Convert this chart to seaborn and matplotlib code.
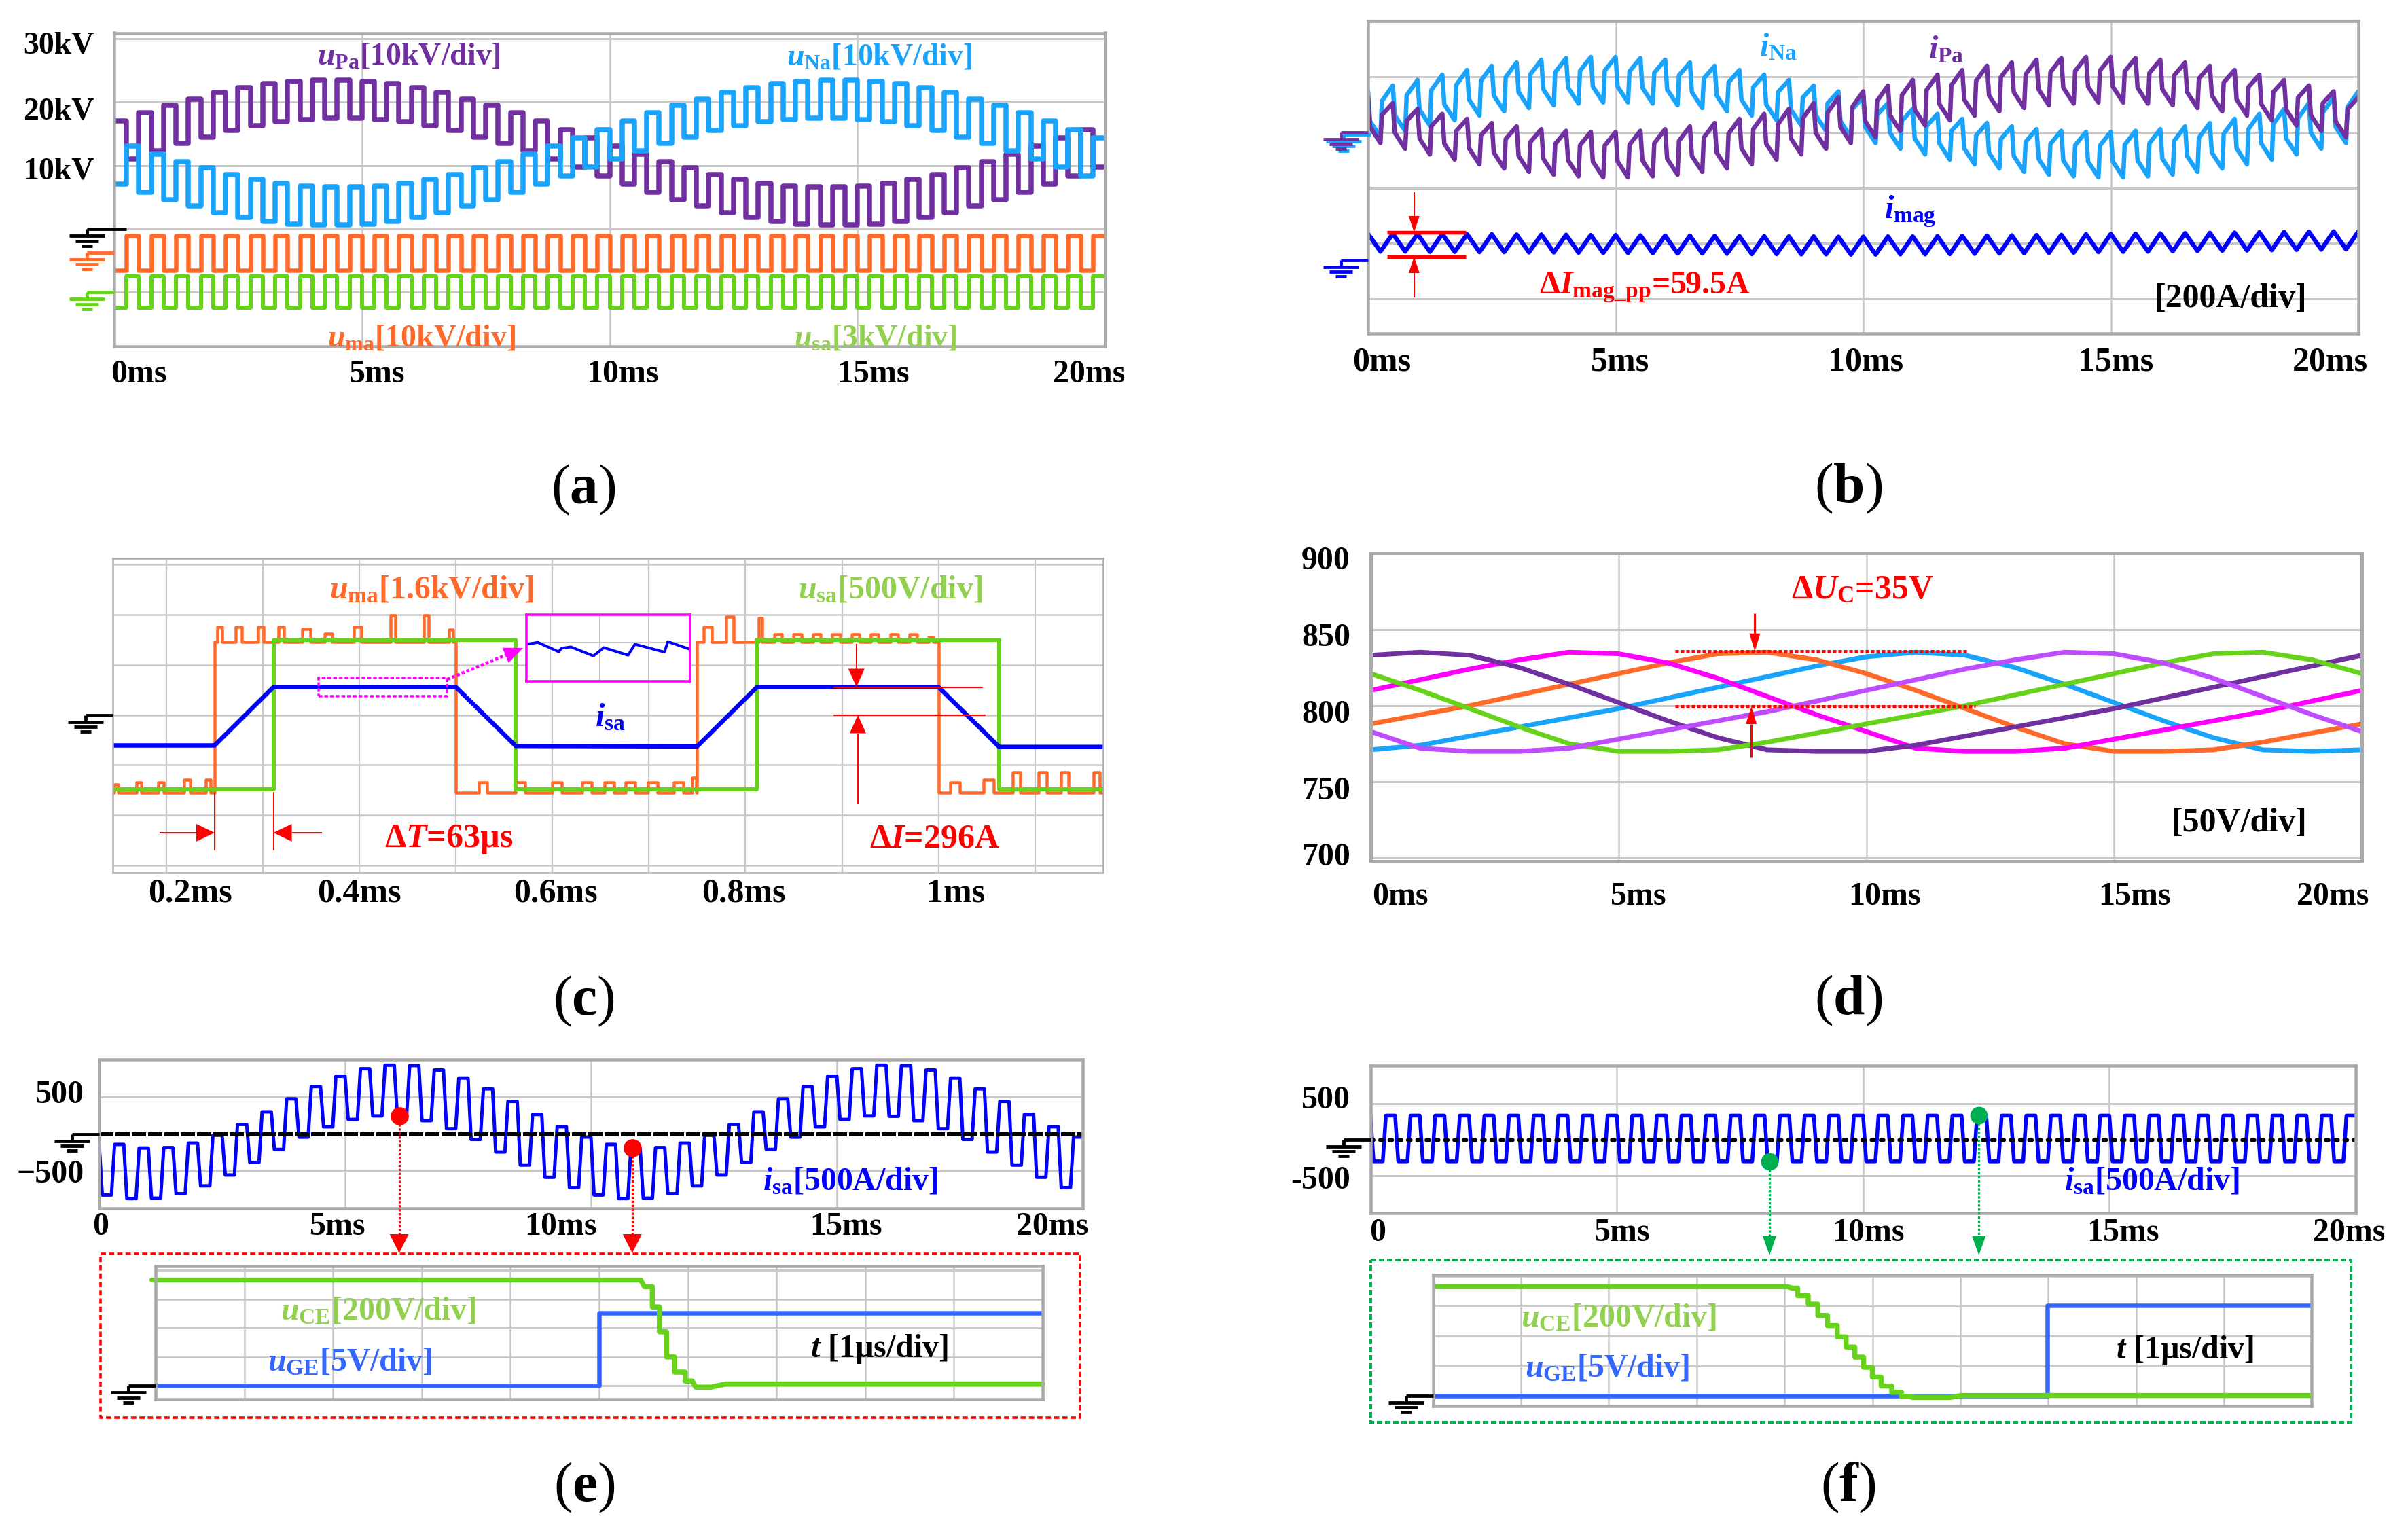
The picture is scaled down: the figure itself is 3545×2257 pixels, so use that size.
import numpy as np
import pandas as pd
import matplotlib
matplotlib.use("Agg")
import matplotlib.pyplot as plt
import matplotlib.transforms as mtransforms
from matplotlib.patches import Rectangle, Polygon
import seaborn as sns

# ============================ DATA ============================
T_SW = 0.5      # ms, switching period of every 20 ms trace
RAMP = 0.063    # ms, current ramp time (dT = 63 us)

# (a) arm voltages, level held in each half of every switching period [kV]
upa_hi = [17.0, 18.3, 19.5, 20.5, 21.5, 22.3, 22.9, 23.3, 23.5, 23.5, 23.3, 22.9, 22.3, 21.5, 20.5, 19.5, 18.3, 17.0, 15.7, 14.4,
          13.1, 11.8, 10.6, 9.6, 8.6, 7.8, 7.2, 6.8, 6.6, 6.6, 6.8, 7.2, 7.8, 8.6, 9.6, 10.6, 11.8, 13.1, 14.4, 15.7]
upa_lo = [11.0, 12.3, 13.5, 14.5, 15.5, 16.3, 16.9, 17.3, 17.5, 17.5, 17.3, 16.9, 16.3, 15.5, 14.5, 13.5, 12.3, 11.0, 9.7, 8.4,
          7.1, 5.8, 4.6, 3.6, 2.6, 1.8, 1.2, 0.8, 0.6, 0.6, 0.8, 1.2, 1.8, 2.6, 3.6, 4.6, 5.8, 7.1, 8.4, 9.7]
una_hi = [13.1, 11.8, 10.6, 9.6, 8.6, 7.8, 7.2, 6.8, 6.6, 6.6, 6.8, 7.2, 7.8, 8.6, 9.6, 10.6, 11.8, 13.1, 14.4, 15.7,
          17.0, 18.3, 19.5, 20.5, 21.5, 22.3, 22.9, 23.3, 23.5, 23.5, 23.3, 22.9, 22.3, 21.5, 20.5, 19.5, 18.3, 17.0, 15.7, 14.4]
una_lo = [7.1, 5.8, 4.6, 3.6, 2.6, 1.8, 1.2, 0.8, 0.6, 0.6, 0.8, 1.2, 1.8, 2.6, 3.6, 4.6, 5.8, 7.1, 8.4, 9.7,
          11.0, 12.3, 13.5, 14.5, 15.5, 16.3, 16.9, 17.3, 17.5, 17.5, 17.3, 16.9, 16.3, 15.5, 14.5, 13.5, 12.3, 11.0, 9.7, 8.4]
uma_a_hi, uma_a_lo = 2.7, -2.8      # kV
usa_a_hi, usa_a_lo = 0.75, -0.72    # kV
a_xticklabels = ["0ms", "5ms", "10ms", "15ms", "20ms"]
a_yticks = [30, 20, 10]
a_yticklabels = ["30kV", "20kV", "10kV"]

# (b) arm / magnetising currents [A]: peak at start of each period, trough in the middle
ina_pk = [148, 169, 189, 208, 225, 240, 252, 262, 268, 272, 272, 268, 262, 252, 240, 225, 208, 189, 169, 148,
          127, 106, 85, 67, 49, 34, 22, 12, 6, 2, 2, 6, 12, 22, 34, 49, 67, 85, 106, 127, 148]
ina_tr = [-17, 5, 25, 44, 61, 76, 88, 98, 104, 108, 108, 104, 98, 88, 76, 61, 44, 25, 5, -17,
          -38, -59, -79, -98, -115, -130, -142, -152, -158, -162, -162, -158, -152, -142, -130, -115, -98, -79, -59, -38]
ipa_pk = [127, 106, 85, 67, 49, 34, 22, 12, 6, 2, 2, 6, 12, 22, 34, 49, 67, 85, 106, 127,
          148, 169, 189, 208, 225, 240, 252, 262, 268, 272, 272, 268, 262, 252, 240, 225, 208, 189, 169, 148, 127]
ipa_tr = [-38, -59, -79, -98, -115, -130, -142, -152, -158, -162, -162, -158, -152, -142, -130, -115, -98, -79, -59, -38,
          -17, 5, 25, 44, 61, 76, 88, 98, 104, 108, 108, 104, 98, 88, 76, 61, 44, 25, 5, -17]
imag_pk = [95, 95, 94, 94, 93, 93, 92, 92, 91, 90, 90, 89, 88, 88, 87, 86, 86, 85, 85, 84,
           84, 85, 85, 86, 87, 88, 89, 90, 91, 93, 94, 95, 96, 97, 98, 99, 100, 101, 102, 103, 103]
imag_tr = [31, 31, 30, 30, 29, 29, 28, 28, 27, 26, 26, 25, 24, 24, 23, 22, 22, 21, 21, 20,
           20, 21, 21, 22, 23, 24, 25, 26, 27, 29, 30, 31, 32, 33, 34, 35, 36, 37, 38, 39]
imag_pp_marks = [100, 12]     # A, red marker bars
b_xticklabels = ["0ms", "5ms", "10ms", "15ms", "20ms"]

# (c) zoom 0.14 ... 1.17 ms
c_span = [0.1445, 1.1706]
uma_c_edges = [0.25, 0.5, 0.75, 1.0]
uma_c_hi, uma_c_lo = 2.32, -2.48            # kV
uma_c_spikes = [  # (start ms, width ms, level kV)
    (0.146, 0.004, -2.22), (0.169, 0.005, -2.16), (0.192, 0.005, -2.16), (0.2185, 0.006, -2.08), (0.241, 0.005, -2.08),
    (0.253, 0.005, 2.80), (0.272, 0.006, 2.80), (0.295, 0.006, 2.80), (0.316, 0.006, 2.80), (0.341, 0.008, 2.75),
    (0.364, 0.008, 2.59), (0.394, 0.008, 2.80), (0.432, 0.005, 3.17), (0.467, 0.005, 3.17), (0.493, 0.004, 2.72),
    (0.524, 0.008, -2.16), (0.562, 0.010, -2.16), (0.600, 0.010, -2.16), (0.631, 0.010, -2.16), (0.654, 0.010, -2.16),
    (0.676, 0.010, -2.16), (0.699, 0.010, -2.16), (0.726, 0.010, -2.16), (0.745, 0.004, -2.00),
    (0.757, 0.008, 2.80), (0.780, 0.008, 3.14), (0.814, 0.003, 3.09), (0.830, 0.008, 2.56), (0.850, 0.008, 2.56),
    (0.870, 0.008, 2.56), (0.890, 0.008, 2.56), (0.910, 0.008, 2.56), (0.930, 0.008, 2.56), (0.950, 0.008, 2.56),
    (0.970, 0.008, 2.56), (0.990, 0.005, 2.48),
    (1.012, 0.010, -2.16), (1.047, 0.010, -2.08), (1.077, 0.008, -1.84), (1.104, 0.008, -1.84), (1.127, 0.008, -1.84),
    (1.161, 0.006, -1.84)]
usa_c_edges = [0.311, 0.562, 0.812, 1.063]
usa_c_hi, usa_c_lo = 750, -745              # V
isa_c_t = [0.1445, 0.25, 0.311, 0.5, 0.562, 0.75, 0.812, 1.0, 1.063, 1.1706]
isa_c_v = [-325, -325, 296, 296, -330, -335, 296, 296, -341, -341]   # A
zoom_u = [0.006, 0.070, 0.197, 0.214, 0.271, 0.409, 0.473, 0.621, 0.663, 0.843, 0.864, 1.0]
zoom_v = [0.557, 0.584, 0.443, 0.495, 0.516, 0.381, 0.505, 0.391, 0.557, 0.438, 0.595, 0.480]
c_xticks = [0.2, 0.4, 0.6, 0.8, 1.0]
c_xticklabels = ["0.2ms", "0.4ms", "0.6ms", "0.8ms", "1ms"]

# (d) sub-module capacitor voltages [V], sampled every 1 ms
d_t = list(range(21))
uc_blue = [771, 774, 780, 786, 792, 798, 805, 812, 819, 826, 832, 835, 833, 825, 814, 802, 790, 779, 771, 770, 771]
uc_orange = [788, 794, 800, 807, 814, 821, 828, 834, 835, 830, 821, 810, 798, 786, 775, 770, 770, 771, 776, 782, 788]
uc_magenta = [810, 817, 824, 830, 835, 834, 828, 818, 806, 794, 783, 772, 770, 770, 772, 778, 784, 790, 796, 803, 810]
uc_purple = [833, 835, 833, 825, 814, 802, 790, 779, 771, 770, 770, 774, 780, 786, 792, 798, 805, 812, 819, 826, 833]
uc_green = [821, 810, 798, 786, 775, 770, 770, 771, 776, 782, 788, 794, 800, 807, 814, 821, 828, 834, 835, 830, 821]
uc_lavender = [783, 772, 770, 770, 772, 778, 784, 790, 796, 803, 810, 817, 824, 830, 835, 834, 828, 818, 806, 794, 783]
d_marks = [835.7, 799.5]
d_yticks = [900, 850, 800, 750, 700]
d_xticklabels = ["0ms", "5ms", "10ms", "15ms", "20ms"]

# (e) output current, levels per switching period [A]
ie_hi = [-139, -187, -182, -122, -15, 130, 299, 474, 639, 778, 877, 925, 920, 860, 753, 608, 439, 264, 99, -40,
         -139, -187, -182, -122, -15, 130, 299, 474, 639, 778, 877, 925, 920, 860, 753, 608, 439, 264, 99, -40]
ie_lo = [-819, -867, -862, -802, -695, -550, -381, -206, -41, 98, 197, 245, 240, 180, 73, -72, -241, -416, -581, -720,
         -819, -867, -862, -802, -695, -550, -381, -206, -41, 98, 197, 245, 240, 180, 73, -72, -241, -416, -581, -720]
e_uce_t = [-0.04, 5.47, 5.51, 5.60, 5.60, 5.68, 5.68, 5.76, 5.76, 5.85, 5.85, 5.97, 5.97, 6.05, 6.09, 6.26, 6.43, 10.0]
e_uce_v = [732, 732, 686, 686, 546, 546, 374, 374, 200, 200, 96, 96, 34, 34, -8, -8, 14, 14]
e_uge_t = [0, 5.0, 5.0, 10.0]
e_uge_v = [0, 0, 12.65, 12.65]
e_xticklabels = ["0", "5ms", "10ms", "15ms", "20ms"]

# (f)
if_hi, if_lo = 335, -300
f_uce_t = [0, 4.03, 4.09, 4.15, 4.15, 4.27, 4.27, 4.38, 4.38, 4.49, 4.49, 4.60, 4.60, 4.70, 4.70, 4.80, 4.80,
           4.90, 4.90, 5.00, 5.00, 5.10, 5.10, 5.22, 5.22, 5.33, 5.33, 5.45, 5.45, 5.89, 6.01, 10.0]
f_uce_v = [732, 732, 722, 722, 672, 672, 614, 614, 538, 538, 470, 470, 394, 394, 326, 326, 258,
           258, 190, 190, 124, 124, 64, 64, 22, 22, -6, -6, -12, -12, 0, 0]
f_uge_t = [0, 6.99, 6.99, 10.0]
f_uge_v = [0, 0, 15.1, 15.1]

UCE_DIV, UGE_DIV = 200.0, 5.0
UMA_C_DIV, USA_C_DIV, ISA_C_DIV = 1.6, 500.0, 533.3
A_GND_UMA, A_GND_USA, USA_A_DIV = -3.75, -10.0, 3.0
B_IMAG_GND = -460.0

# ============================ STYLE ============================
sns.set_theme(style="white")
plt.rcParams.update({
    "font.family": ["Liberation Serif", "DejaVu Serif"],
    "font.weight": "bold",
    "mathtext.fontset": "custom",
    "mathtext.rm": "Liberation Serif:bold",
    "mathtext.it": "Liberation Serif:italic:bold",
    "mathtext.bf": "Liberation Serif:bold",
    "mathtext.default": "it",
    "figure.facecolor": "white",
})

W, H, DPI = 3545, 2257, 300
PT = 72.0 / DPI
fig = plt.figure(figsize=(W / DPI, H / DPI), dpi=DPI)

PURPLE, LBLUE, ORANGE = "#7030A0", "#1AA3FA", "#FF6A2A"
GREEN, LGREEN, BLUE = "#66D21A", "#92D050", "#0000FF"
UGEB, RED, MAG, LAV, DGREEN = "#3366FF", "#FF0000", "#FF00FF", "#BF4DFF", "#00B050"
GRID, FRAME = "#C8C8C8", "#ABABAB"
TS = 11.5

ov = fig.add_axes([0, 0, 1, 1], zorder=20)
ov.set_xlim(0, W)
ov.set_ylim(H, 0)
ov.axis("off")
ov.patch.set_visible(False)


def make_ax(frame, xlim, ylim, xgrid, ygrid, frame_px=4.5, gh=3.0, gv=2.5, zorder=1):
    l, t, r, b = frame
    ax = fig.add_axes([l / W, 1 - b / H, (r - l) / W, (b - t) / H], zorder=zorder)
    ax.set_xlim(*xlim)
    ax.set_ylim(*ylim)
    ax.set_facecolor("white")
    ax.grid(False)
    for s in ax.spines.values():
        s.set_visible(True)
        s.set_color(FRAME)
        s.set_linewidth(frame_px * PT)
        s.set_zorder(6)
    for x in xgrid:
        ax.axvline(x, color=GRID, lw=gv * PT, zorder=0.6)
    for y in ygrid:
        ax.axhline(y, color=GRID, lw=gh * PT, zorder=0.6)
    ax.set_xticks([])
    ax.set_yticks([])
    return ax


def d2p(ax, x, y):
    X, Y = ax.transData.transform((x, y))
    return X, H - Y


def set_xlabels(ax, vals, labels, centers, cy, size=TS):
    ax.set_xticks(vals)
    ax.set_xticklabels(labels)
    bottom = H - ax.get_position().y0 * H
    ax.tick_params(axis="x", length=0, pad=(cy - bottom) * PT, labelsize=size,
                   labelcolor="black", bottom=True, top=False)
    for lbl, v, c in zip(ax.get_xticklabels(), vals, centers):
        gx, _ = d2p(ax, v, ax.get_ylim()[0])
        lbl.set_verticalalignment("center")
        lbl.set_transform(lbl.get_transform() +
                          mtransforms.ScaledTranslation((c - gx) / DPI, 0, fig.dpi_scale_trans))


def set_ylabels(ax, vals, labels, right_px, dys, size=TS, tl=18, tw=3):
    ax.set_yticks(vals)
    ax.set_yticklabels(labels)
    left = ax.get_position().x0 * W
    ax.tick_params(axis="y", direction="in", length=tl * PT, width=tw * PT, color="black",
                   pad=(left - right_px) * PT, labelsize=size, labelcolor="black", left=True, right=False)
    for lbl, dy in zip(ax.get_yticklabels(), dys):
        lbl.set_verticalalignment("center")
        lbl.set_transform(lbl.get_transform() +
                          mtransforms.ScaledTranslation(0, -dy / DPI, fig.dpi_scale_trans))


def line(ax, t, v, color, lw_px, **kw):
    sns.lineplot(x=np.asarray(t, float), y=np.asarray(v, float), ax=ax, color=color,
                 linewidth=lw_px * PT, estimator=None, sort=False, legend=False, **kw)


def two_level(first, second):
    t, v = [], []
    for k, (f, s) in enumerate(zip(first, second)):
        t0 = k * T_SW
        t += [t0, t0 + T_SW / 2, t0 + T_SW / 2, t0 + T_SW]
        v += [f, f, s, s]
    return np.array(t), np.array(v)


def trapezoid(lo, hi):
    t, v = [0.0], [hi[0]]
    for k in range(len(lo)):
        t0 = k * T_SW
        t += [t0 + RAMP, t0 + T_SW / 2, t0 + T_SW / 2 + RAMP, t0 + T_SW]
        v += [lo[k], lo[k], hi[k], hi[k]]
    return np.array(t), np.array(v)


def sawtooth(pk, tr):
    t, v = [], []
    for k in range(len(tr)):
        t0, a, b, c = k * T_SW, pk[k], tr[k], pk[k + 1]
        t += [t0, t0 + 0.04, t0 + 0.25, t0 + 0.28]
        v += [a, b + 0.35 * (a - b), b, b + 0.7 * (c - b)]
    t.append(len(tr) * T_SW)
    v.append(pk[-1])
    return np.array(t), np.array(v)


def triangle(pk, tr):
    t, v = [], []
    for k in range(len(tr)):
        t += [k * T_SW, k * T_SW + T_SW / 2]
        v += [pk[k], tr[k]]
    t.append(len(tr) * T_SW)
    v.append(pk[-1])
    return np.array(t), np.array(v)


def toggled(span, edges, hi, lo, spikes=()):
    bps = sorted(set([span[0], span[1]] + list(edges) + [s[0] for s in spikes] + [s[0] + s[1] for s in spikes]))

    def level(tm):
        for (t0, dt, lv) in spikes:
            if t0 <= tm < t0 + dt:
                return lv
        n = sum(1 for e in edges if e <= tm)
        return hi if n % 2 == 1 else lo

    t, v = [], []
    for a, b in zip(bps[:-1], bps[1:]):
        lv = level(0.5 * (a + b))
        t += [a, b]
        v += [lv, lv]
    return np.array(t), np.array(v)


def ground(xa, ya, color, inside=0.0, dx=40):
    kw = dict(color=color, lw=4.8 * PT, solid_capstyle="butt", zorder=15)
    xs = xa - dx
    ov.plot([xs, xa + inside], [ya, ya], **kw)
    ov.plot([xs, xs], [ya, ya + 10], **kw)
    for hw, dy in [(26, 10), (17, 17.5), (8, 24.5)]:
        ov.plot([xs - hw, xs + hw], [ya + dy, ya + dy], **kw)


def arrow_px(p0, p1, color, lw_px, hl, hw, ls="-"):
    (x0, y0), (x1, y1) = p0, p1
    L = np.hypot(x1 - x0, y1 - y0)
    ux, uy = (x1 - x0) / L, (y1 - y0) / L
    bx, by = x1 - ux * hl, y1 - uy * hl
    ov.plot([x0, bx], [y0, by], color=color, lw=lw_px * PT, ls=ls, solid_capstyle="butt", zorder=16)
    nx, ny = -uy, ux
    ov.add_patch(Polygon([[x1, y1], [bx + nx * hw, by + ny * hw], [bx - nx * hw, by - ny * hw]],
                         closed=True, fc=color, ec=color, lw=0, zorder=16))


def txt(s, x, y, color, size=TS, ha="left", va="baseline", **kw):
    ov.text(x, y, s, color=color, fontsize=size, ha=ha, va=va, fontweight="bold", zorder=18, **kw)


# ============================ (a) ============================
axA = make_ax((168, 48.5, 1627, 510), (0, 20), (-18.54, 30.92), [5, 10, 15], [30, 20, 10, 0, -10])
t, v = two_level(upa_hi, upa_lo)
line(axA, t, v, PURPLE, 7.5)
t, v = two_level(una_lo, una_hi)
line(axA, t, v, LBLUE, 7.5)
t, v = two_level([uma_a_lo] * 40, [uma_a_hi] * 40)
line(axA, t, A_GND_UMA + v, ORANGE, 6.5)
t, v = two_level([usa_a_lo] * 40, [usa_a_hi] * 40)
line(axA, t, A_GND_USA + v * 10.0 / USA_A_DIV, GREEN, 6)
set_ylabels(axA, a_yticks, a_yticklabels, 139, [10, 14, 9], size=11)
set_xlabels(axA, [0, 5, 10, 15, 20], a_xticklabels, [204, 555, 916, 1285, 1603], 551, size=11.5)
ground(*d2p(axA, 0, 0), "black", inside=18)
ground(*d2p(axA, 0, A_GND_UMA), ORANGE)
ground(*d2p(axA, 0, A_GND_USA), GREEN)
txt(r"$u_{\rm Pa}$[10kV/div]", 467, 94.4, PURPLE, 11)
txt(r"$u_{\rm Na}$[10kV/div]", 1158, 95.7, LBLUE, 11)
txt(r"$u_{\rm ma}$[10kV/div]", 482, 510, ORANGE, 11)
txt(r"$u_{\rm sa}$[3kV/div]", 1169, 509, LGREEN, 11)

# ============================ (b) ============================
axB = make_ax((2014, 30.6, 3472, 491), (0, 20), (-724.6, 402.4), [5, 10, 15], [400, 200, 0, -200, -400, -600])
t, v = sawtooth(ina_pk, ina_tr)
line(axB, t, v, LBLUE, 6.5)
t, v = sawtooth(ipa_pk, ipa_tr)
line(axB, t, v, PURPLE, 6.5)
t, v = triangle(imag_pk, imag_tr)
line(axB, t, B_IMAG_GND + v, BLUE, 6.5)
set_xlabels(axB, [0, 5, 10, 15, 20], b_xticklabels, [2034, 2385, 2747, 3115, 3430], 534, size=12)
for m in imag_pp_marks:
    axB.plot([0.38, 1.98], [B_IMAG_GND + m] * 2, color=RED, lw=5.5 * PT, solid_capstyle="butt", zorder=5)
arrow_px(d2p(axB, 0.93, -215), d2p(axB, 0.93, B_IMAG_GND + imag_pp_marks[0]), RED, 2, 24, 8)
arrow_px(d2p(axB, 0.93, -595), d2p(axB, 0.93, B_IMAG_GND + imag_pp_marks[1]), RED, 2, 24, 8)
gx, gy = d2p(axB, 0, 0)
ground(gx + 4, gy + 3, LBLUE)
ground(gx, gy, PURPLE)
ground(*d2p(axB, 0, B_IMAG_GND), BLUE)
txt(r"$i_{\rm Na}$", 2590, 82.3, LBLUE, 11.5)
txt(r"$i_{\rm Pa}$", 2839, 86.1, PURPLE, 11.5)
txt(r"$i_{\rm mag}$", 2774, 321.5, BLUE, 11.5)
txt(r"Δ$I_{\rm mag\_pp}$=59.5A", 2266, 432.5, RED, 11.5)
txt("[200A/div]", 3171, 451.6, "black", 12)

# ============================ (c) ============================
axC = make_ax((166, 822, 1624, 1285), c_span, (-3.150, 3.123),
              [0.2, 0.3, 0.4, 0.5, 0.6, 0.7, 0.8, 0.9, 1.0, 1.1], [3, 2, 1, 0, -1, -2, -3],
              frame_px=2.5, gh=2.5, gv=2.2)
t, v = toggled(c_span, uma_c_edges, uma_c_hi, uma_c_lo, uma_c_spikes)
line(axC, t, v / UMA_C_DIV, ORANGE, 4.5)
t, v = toggled(c_span, usa_c_edges, usa_c_hi, usa_c_lo)
line(axC, t, v / USA_C_DIV, GREEN, 6)
line(axC, isa_c_t, np.array(isa_c_v) / ISA_C_DIV, BLUE, 6.5)
set_xlabels(axC, c_xticks, c_xticklabels, [280, 529, 818, 1095, 1407], 1316, size=12)
ground(*d2p(axC, c_span[0], 0), "black")
axC.add_patch(Rectangle((0.358, 0.373), 0.133, 0.365, fill=False, ec=MAG, lw=3.5 * PT,
                        ls=(0, (1.6, 0.8)), zorder=7))
arrow_px(d2p(axC, 0.491, 0.71), (770, 954), MAG, 4.5, 28, 12, ls=(0, (1.0, 0.7)))
for e in (uma_c_edges[0], usa_c_edges[0]):
    axC.plot([e, e], [-1.545, -2.686], color=RED, lw=2 * PT, zorder=7)
arrow_px(d2p(axC, 0.193, -2.35), d2p(axC, uma_c_edges[0], -2.35), RED, 2, 27, 13)
arrow_px(d2p(axC, 0.361, -2.35), d2p(axC, usa_c_edges[0], -2.35), RED, 2, 27, 13)
hi_div = isa_c_v[2] / ISA_C_DIV
axC.plot([0.892, 1.045], [hi_div, hi_div], color=RED, lw=2.2 * PT, zorder=7)
axC.plot([0.892, 1.048], [0, 0], color=RED, lw=2.2 * PT, zorder=7)
arrow_px(d2p(axC, 0.915, 1.416), d2p(axC, 0.915, hi_div), RED, 2, 27, 12)
arrow_px(d2p(axC, 0.9165, -1.78), d2p(axC, 0.9165, 0), RED, 2, 27, 12)
# magnified ripple window
axZ = make_ax((775, 905, 1016, 1003), (0, 1), (0, 1), [0.145, 0.448, 0.747], [0.58],
              frame_px=3.5, gh=2, gv=2, zorder=8)
for s in axZ.spines.values():
    s.set_color(MAG)
line(axZ, zoom_u, zoom_v, BLUE, 4)
txt(r"$u_{\rm ma}$[1.6kV/div]", 485, 881.4, ORANGE)
txt(r"$u_{\rm sa}$[500V/div]", 1175, 881, LGREEN)
txt(r"$i_{\rm sa}$", 876, 1069, BLUE)
txt(r"Δ$T$=63µs", 566, 1247, RED, 12)
txt(r"Δ$I$=296A", 1280, 1247, RED, 12)

# ============================ (d) ============================
axD = make_ax((2018, 813.7, 3477, 1268), (0, 20), (697.9, 900.3), [5, 10, 15], [900, 850, 800, 750, 700],
              frame_px=5)
df_d = pd.concat([pd.DataFrame({"t": d_t, "V": vals, "cell": name}) for name, vals in
                  [("blue", uc_blue), ("orange", uc_orange), ("magenta", uc_magenta),
                   ("purple", uc_purple), ("green", uc_green), ("lavender", uc_lavender)]])
sns.lineplot(data=df_d, x="t", y="V", hue="cell", ax=axD, estimator=None, sort=False, legend=False,
             palette={"blue": LBLUE, "orange": ORANGE, "magenta": MAG, "purple": PURPLE,
                      "green": GREEN, "lavender": LAV}, linewidth=7 * PT)
axD.set_xlabel("")
axD.set_ylabel("")
set_ylabels(axD, d_yticks, [str(v) for v in d_yticks], 1988, [12, 12, 13, 14, -1], size=11.5)
set_xlabels(axD, [0, 5, 10, 15, 20], d_xticklabels, [2061, 2412, 2774, 3142, 3434], 1320, size=11.5)
axD.plot([6.14, 12.04], [d_marks[0]] * 2, color=RED, lw=5 * PT, ls=(0, (1, 0.6)), zorder=7)
axD.plot([6.14, 12.2], [d_marks[1]] * 2, color=RED, lw=5 * PT, ls=(0, (1, 0.6)), zorder=7)
arrow_px(d2p(axD, 7.75, 860.5), d2p(axD, 7.75, d_marks[0]), RED, 3, 26, 8)
arrow_px(d2p(axD, 7.68, 766), d2p(axD, 7.68, d_marks[1]), RED, 3, 26, 8)
txt(r"Δ$U_{\rm C}$=35V", 2637, 881.4, RED, 12)
txt("[50V/div]", 3196, 1224, "black", 12)

# ============================ (e) ============================
axE = make_ax((146, 1559.6, 1594, 1779), (0, 20), (-998, 1005), [5, 10, 15], [500, -500])
t, v = trapezoid(ie_lo, ie_hi)
line(axE, t, v, BLUE, 5)
axE.axhline(0, color="black", lw=6 * PT, ls=(0, (3.5, 0.5)), zorder=4)
set_ylabels(axE, [500, -500], ["500", "−500"], 124, [-3.4, 4.6], size=11.5, tl=17)
set_xlabels(axE, [0, 5, 10, 15, 20], e_xticklabels, [148, 497, 825, 1245, 1549], 1805.6, size=11.5)
ground(*d2p(axE, 0, 0), "black")
dots_e = [(6.1, ie_lo[12]), (10.84, ie_hi[21])]
for tx, vy in dots_e:
    axE.plot([tx], [vy], "o", color=RED, ms=5.4, zorder=8, clip_on=False)
    x0, y0 = d2p(axE, tx, vy)
    arrow_px((x0, y0), (x0, 1845), RED, 3.3, 28, 14, ls=(0, (1, 0.8)))
ov.add_patch(Rectangle((148, 1845.5), 1590 - 148, 2086.5 - 1845.5, fill=False, ec=RED,
                       lw=3.6 * PT, ls=(0, (2.2, 1.2)), zorder=14))
axE2 = make_ax((229, 1864, 1535, 2060), (0, 10), (-0.458, 4.143), list(range(1, 10)), [0, 1, 2, 3, 4],
               frame_px=4.5, gh=2.8, gv=2.5)
line(axE2, e_uge_t, np.array(e_uge_v) / UGE_DIV, UGEB, 6.5)
line(axE2, e_uce_t, np.array(e_uce_v) / UCE_DIV, GREEN, 7.5, clip_on=False)
ground(*d2p(axE2, 0, 0), "black")
txt(r"$i_{\rm sa}$[500A/div]", 1123, 1752, BLUE)
txt(r"$u_{\rm CE}$[200V/div]", 413, 1943.5, LGREEN)
txt(r"$u_{\rm GE}$[5V/div]", 394, 2018.7, UGEB)
txt(r"$t$ [1µs/div]", 1193, 1998, "black")

# ============================ (f) ============================
axF = make_ax((2017.6, 1568.8, 3468, 1786), (0, 20), (-1017, 1028), [5, 10, 15], [500, -500])
t, v = trapezoid([if_lo] * 40, [if_hi] * 40)
line(axF, t, v, BLUE, 5.5)
axF.axhline(0, color="black", lw=6.5 * PT, ls=(0, (0.5, 1.6)), dash_capstyle="round", zorder=4)
set_ylabels(axF, [500, -500], ["500", "-500"], 1988, [-4.8, 7.4], size=11.5, tl=17)
set_xlabels(axF, [0, 5, 10, 15, 20], e_xticklabels, [2028, 2388, 2750.5, 3125.7, 3458.6], 1815, size=11.5)
ground(*d2p(axF, 0, 0), "black")
dots_f = [(8.1, if_lo), (12.35, if_hi)]
for tx, vy in dots_f:
    axF.plot([tx], [vy], "o", color=DGREEN, ms=5.2, zorder=8, clip_on=False)
    x0, y0 = d2p(axF, tx, vy)
    arrow_px((x0, y0), (x0, 1848), DGREEN, 3.3, 28, 10, ls=(0, (1, 0.8)))
ov.add_patch(Rectangle((2017.6, 1854.8), 3461 - 2017.6, 2094.2 - 1854.8, fill=False, ec=DGREEN,
                       lw=4 * PT, ls=(0, (2.0, 1.0)), zorder=14))
axF2 = make_ax((2109.5, 1876.6, 3403.5, 2070), (0, 10), (-0.352, 4.064), list(range(1, 10)), [0, 1, 2, 3, 4],
               frame_px=4.5, gh=2.8, gv=2.5)
line(axF2, f_uge_t, np.array(f_uge_v) / UGE_DIV, UGEB, 6.5)
line(axF2, f_uce_t, np.array(f_uce_v) / UCE_DIV, GREEN, 7.5)
ground(*d2p(axF2, 0, 0), "black")
txt(r"$i_{\rm sa}$[500A/div]", 3039, 1752, BLUE)
txt(r"$u_{\rm CE}$[200V/div]", 2239, 1953.6, LGREEN)
txt(r"$u_{\rm GE}$[5V/div]", 2245, 2027.6, UGEB)
txt(r"$t$ [1µs/div]", 3115, 1999.8, "black")

# ============================ panel labels ============================
for s, x, y in [("a", 859, 721), ("b", 2721, 719), ("c", 859, 1474),
                ("d", 2721, 1473), ("e", 860, 2190), ("f", 2721, 2190)]:
    ov.text(x, y, "($\\mathbf{%s}$)" % s, fontsize=20, fontweight="normal", ha="center", va="center",
            color="black", zorder=18)

for ax in (axA, axB, axC, axD, axE, axF, axE2, axF2, axZ):
    ax.set_xlabel("")
    ax.set_ylabel("")

fig.savefig("out.png", dpi=DPI, facecolor="white")
